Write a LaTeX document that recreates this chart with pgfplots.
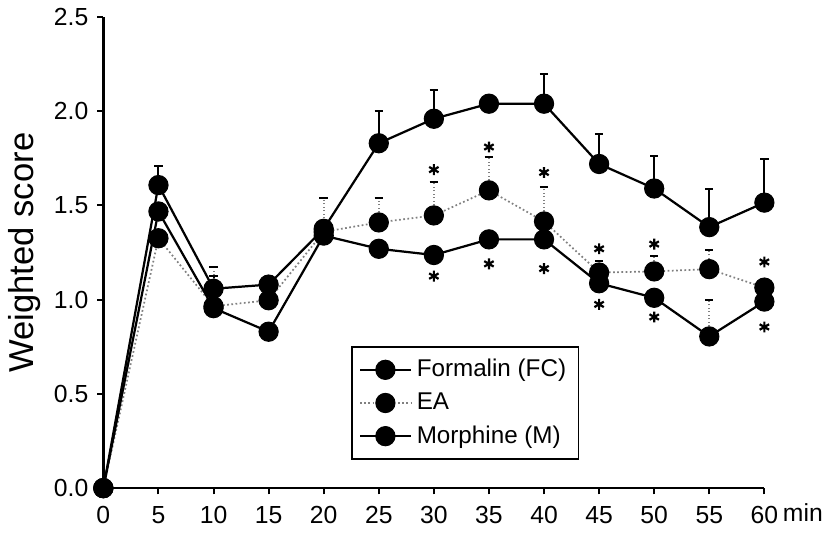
\documentclass[border=0pt]{standalone}
\usepackage{fontspec}
\setmainfont{Liberation Sans}
\usepackage{pgfplots}
\pgfplotsset{compat=1.18}

\begin{document}
\begin{tikzpicture}
\begin{axis}[
    scale only axis,
    width=9.40cm, height=6.7cm,
    xmin=0, xmax=60, ymin=0, ymax=2.5,
    axis x line=bottom, axis y line=left,
    axis line style={-, line width=1.1pt},
    xtick={0,5,...,60}, ytick={0,0.5,...,2.5},
    tick align=outside, major tick length=0.09cm,
    tick style={black, line width=0.8pt},
    /pgf/number format/assume math mode=true,
    yticklabel style={/pgf/number format/.cd, fixed, fixed zerofill, precision=1},
    ticklabel style={font=\fontsize{10}{11}\selectfont},
    xticklabel style={yshift=-0.05cm},
    ylabel={Weighted score},
    ylabel style={font=\fontsize{14}{16}\selectfont, yshift=-0.05cm},
    xlabel={min},
    xlabel style={at={(rel axis cs:1,0)}, anchor=base west, xshift=0.14cm, yshift=-0.47cm,
        font=\fontsize{10}{11}\selectfont},
    clip=false,
    legend style={at={(rel axis cs:0.374,0.302)}, anchor=north west, draw=black,
        line width=0.8pt, font=\fontsize{9.8}{11}\selectfont, row sep=1pt,
        inner sep=3pt},
    legend cell align=left,
    legend image code/.code={\draw[mark repeat=2, mark phase=2] plot coordinates {(0cm,0cm) (0.36cm,0cm) (0.72cm,0cm)};},
    every axis plot/.append style={mark=*, mark size=3.9pt,
        mark options={solid, fill=black, draw=black, line width=0.4pt}},
    error bars/y dir=plus, error bars/y explicit,
    error bars/error mark=-,
    error bars/error mark options={rotate=90, black, solid, mark size=1.7pt, line width=0.8pt},
]
\addplot[black, line width=0.9pt,
    error bars/error bar style={black, solid, line width=0.8pt}] coordinates {
    (0,0) +- (0,0) (5,1.608) +- (0,0.10) (10,1.058) +- (0,0.07) (15,1.08) +- (0,0)
    (20,1.376) +- (0,0) (25,1.83) +- (0,0.17) (30,1.96) +- (0,0.15)
    (35,2.04) +- (0,0) (40,2.04) +- (0,0.16) (45,1.72) +- (0,0.16)
    (50,1.59) +- (0,0.17) (55,1.385) +- (0,0.20) (60,1.515) +- (0,0.23)};
\addlegendentry{Formalin (FC)}
\addplot[gray, densely dotted, line width=0.7pt,
    error bars/error bar style={gray, densely dotted, line width=0.8pt}] coordinates {
    (0,0) +- (0,0) (5,1.326) +- (0,0) (10,0.965) +- (0,0.21) (15,0.997) +- (0,0)
    (20,1.36) +- (0,0.18) (25,1.41) +- (0,0.13) (30,1.447) +- (0,0.175)
    (35,1.58) +- (0,0.175) (40,1.415) +- (0,0.185) (45,1.144) +- (0,0.062)
    (50,1.15) +- (0,0.08) (55,1.162) +- (0,0.10) (60,1.064) +- (0,0)};
\addlegendentry{EA}
\addplot[black, line width=0.9pt,
    error bars/error bar style={gray, densely dotted, line width=0.8pt}] coordinates {
    (0,0) +- (0,0) (5,1.468) +- (0,0) (10,0.955) +- (0,0) (15,0.83) +- (0,0)
    (20,1.34) +- (0,0) (25,1.27) +- (0,0) (30,1.237) +- (0,0)
    (35,1.32) +- (0,0) (40,1.32) +- (0,0) (45,1.087) +- (0,0)
    (50,1.01) +- (0,0) (55,0.805) +- (0,0.195) (60,0.99) +- (0,0)};
\addlegendentry{Morphine (M)}

% significance stars
\addplot[only marks, forget plot, mark=asterisk, mark size=2.2pt,
    mark options={black, line width=0.9pt}, error bars/y dir=none] coordinates {
    (30,1.69) (35,1.81) (40,1.675) (45,1.27) (50,1.295) (60,1.20)
    (30,1.125) (35,1.19) (40,1.165) (45,0.975) (50,0.908) (60,0.855)};
\end{axis}
\end{tikzpicture}
\end{document}
